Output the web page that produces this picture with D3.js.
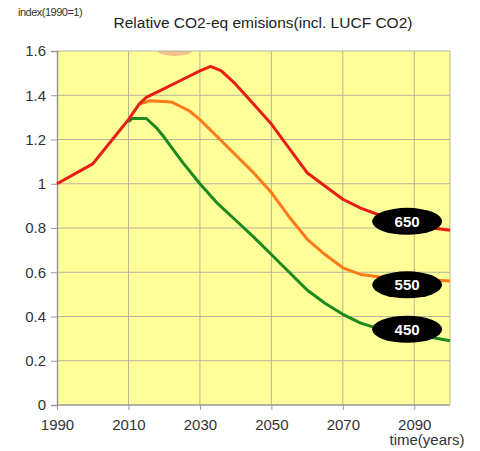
<!DOCTYPE html>
<html>
<head>
<meta charset="utf-8">
<script src="https://cdn.jsdelivr.net/npm/d3@7"></script>
<style>
  body { margin: 0; background: #fff; }
  text { font-family: "Liberation Sans", Arial, sans-serif; }
</style>
</head>
<body>
<div id="chart"></div>
<script>
// series: [year, index]
const red650 = [[1990,1.0],[2000,1.09],[2005,1.19],[2010,1.29],[2013,1.36],[2015,1.39],[2020,1.43],[2025,1.47],[2030,1.51],[2033,1.53],[2036,1.51],[2040,1.45],[2045,1.36],[2050,1.27],[2055,1.16],[2060,1.05],[2065,0.99],[2070,0.93],[2075,0.89],[2080,0.86],[2085,0.84],[2090,0.82],[2095,0.80],[2100,0.79]]
const orange550 = [[2013,1.36],[2016,1.375],[2022,1.37],[2027,1.33],[2030,1.29],[2035,1.21],[2040,1.13],[2045,1.05],[2050,0.96],[2055,0.85],[2060,0.75],[2065,0.68],[2070,0.62],[2075,0.59],[2080,0.58],[2090,0.57],[2100,0.56]]
const green450 = [[2010,1.28],[2011,1.295],[2015,1.295],[2018,1.25],[2020,1.21],[2025,1.10],[2030,1.00],[2035,0.91],[2040,0.835],[2045,0.76],[2050,0.68],[2055,0.60],[2060,0.52],[2065,0.46],[2070,0.41],[2075,0.37],[2080,0.345],[2090,0.32],[2100,0.29]]

const xTicks = [1990, 2010, 2030, 2050, 2070, 2090]
const yTicks = [0, 0.2, 0.4, 0.6, 0.8, 1, 1.2, 1.4, 1.6]

// label bubbles: [text, year, value]
const bubbles = [["650", 2088, 0.83], ["550", 2088, 0.543], ["450", 2088, 0.342]]

const width = 480, height = 451
const margin = {top: 51, right: 30, bottom: 46, left: 57}

const svg = d3.select("#chart").append("svg")
  .attr("width", width)
  .attr("height", height)

let x = d3.scaleLinear().domain([1990, 2100]).range([margin.left, width - margin.right])
let y = d3.scaleLinear().domain([0, 1.6]).range([height - margin.bottom, margin.top])

// plot background
svg.append("rect")
  .attr("x", x(1990)).attr("y", y(1.6))
  .attr("width", x(2100) - x(1990)).attr("height", y(0) - y(1.6))
  .attr("fill", "#ffff99")

// small orange smudge at the top edge
svg.append("clipPath").attr("id", "plotclip")
  .append("rect")
  .attr("x", x(1990)).attr("y", y(1.6))
  .attr("width", x(2100) - x(1990)).attr("height", y(0) - y(1.6))
svg.append("ellipse")
  .attr("clip-path", "url(#plotclip)")
  .attr("cx", x(2023)).attr("cy", y(1.6))
  .attr("rx", 17).attr("ry", 5)
  .attr("fill", "#f2c38a")

// gridlines
svg.append("g")
  .selectAll("line")
  .data(yTicks.slice(1))
  .enter()
  .append("line")
  .attr("x1", x(1990)).attr("x2", x(2100))
  .attr("y1", d => y(d)).attr("y2", d => y(d))
  .attr("stroke", "#b4b49a").attr("stroke-width", 1)

svg.append("g")
  .selectAll("line")
  .data(xTicks.slice(1).concat([2100]))
  .enter()
  .append("line")
  .attr("x1", d => x(d)).attr("x2", d => x(d))
  .attr("y1", y(0)).attr("y2", y(1.6))
  .attr("stroke", "#b4b49a").attr("stroke-width", 1)

// axes
const yAxis = svg.append("g")
  .attr("transform", "translate(" + x(1990) + ",0)")
  .call(d3.axisLeft(y).tickValues(yTicks).tickSize(6).tickPadding(5).tickFormat(d3.format("")))
const xAxis = svg.append("g")
  .attr("transform", "translate(0," + y(0) + ")")
  .call(d3.axisBottom(x).tickValues(xTicks).tickSize(5).tickPadding(9).tickFormat(d3.format("d")))

;[yAxis, xAxis].forEach(a => {
  a.select(".domain").attr("stroke", "#999").attr("stroke-width", 1.5)
  a.selectAll(".tick line").attr("stroke", "#999")
  a.selectAll(".tick text")
    .attr("fill", "#333")
    .style("font-size", "15px")
    .style("font-family", "'Liberation Sans', Arial, sans-serif")
})
xAxis.select(".domain").attr("d", "M" + x(1990) + ",0H" + x(2100))

// lines
const line = d3.line().x(d => x(d[0])).y(d => y(d[1]))
const series = [
  {data: green450, color: "#1c8a1c"},
  {data: orange550, color: "#ff7a1a"},
  {data: red650, color: "#e81e14"}
]
svg.append("g")
  .selectAll("path")
  .data(series)
  .enter()
  .append("path")
  .attr("d", d => line(d.data))
  .attr("fill", "none")
  .attr("stroke", d => d.color)
  .attr("stroke-width", 3)
  .attr("stroke-linejoin", "round")

// bubbles
const bub = svg.append("g")
  .selectAll("g")
  .data(bubbles)
  .enter()
  .append("g")
  .attr("transform", d => "translate(" + x(d[1]) + "," + y(d[2]) + ")")
bub.append("ellipse")
  .attr("rx", 35).attr("ry", 13.5)
  .attr("fill", "#000")
bub.append("text")
  .attr("text-anchor", "middle")
  .attr("dy", "0.36em")
  .attr("fill", "#fff")
  .style("font-size", "15px")
  .style("font-weight", "bold")
  .text(d => d[0])

// titles
svg.append("text")
  .attr("x", 18).attr("y", 16)
  .attr("fill", "#333")
  .style("font-size", "11px")
  .style("letter-spacing", "-0.5px")
  .text("index(1990=1)")

svg.append("text")
  .attr("x", 263).attr("y", 28)
  .attr("text-anchor", "middle")
  .attr("fill", "#222")
  .style("font-size", "15.5px")
  .text("Relative CO2-eq emisions(incl. LUCF CO2)")

svg.append("text")
  .attr("x", 427).attr("y", 445)
  .attr("text-anchor", "middle")
  .attr("fill", "#333")
  .style("font-size", "15px")
  .text("time(years)")
</script>
</body>
</html>
